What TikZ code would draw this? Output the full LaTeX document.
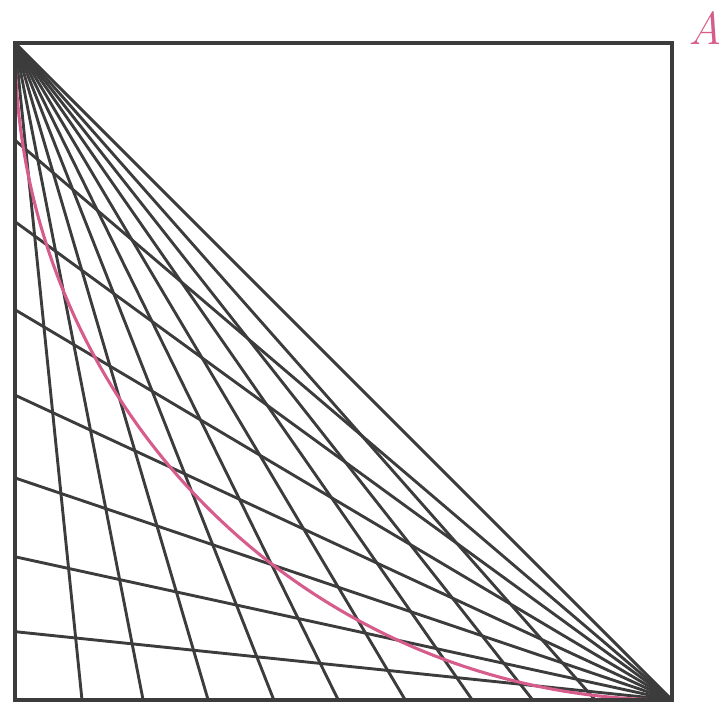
\documentclass[tikz,border=0pt]{standalone}
\usepackage{tikz}

\definecolor{arcpink}{RGB}{214,92,140}
\definecolor{inkgray}{RGB}{60,60,60}

\begin{document}
\begin{tikzpicture}[x=0.6cm,y=0.6cm,
frame line/.style={draw=inkgray,line width=0.9pt},
ray/.style={draw=inkgray,line width=0.75pt},
arc line/.style={draw=arcpink,line width=0.8pt},
corner label/.style={text=arcpink,font=\itshape\large,inner sep=0pt}]
\useasboundingbox (-0.228,-0.167) rectangle (10.715,10.654);
\coordinate (O) at (0,0);
\coordinate (T) at (0,10);
\coordinate (B) at (10,0);
\coordinate (A) at (10,10);
% rays from the top-left corner to the bottom side
\foreach \x [count=\i] in {1.02,1.95,2.94,3.94,4.92,5.94,6.96,7.88,8.83}
  \coordinate (b\i) at (\x,0);
\foreach \i in {1,...,9}
  \draw[ray] (T) -- (b\i);
% rays from the bottom-right corner to the left side
\foreach \y [count=\i] in {1.04,2.18,3.38,4.64,5.94,7.28,8.52}
  \coordinate (l\i) at (0,\y);
\foreach \i in {1,...,7}
  \draw[ray] (B) -- (l\i);
\draw[ray] (T) -- (B);
% quarter circle about A
\draw[arc line] (T) arc[start angle=180,end angle=270,radius=10];
\draw[frame line] (O) rectangle (A);
\node[corner label] (labA) at (10.5,10.22) {A};
\end{tikzpicture}
\end{document}
